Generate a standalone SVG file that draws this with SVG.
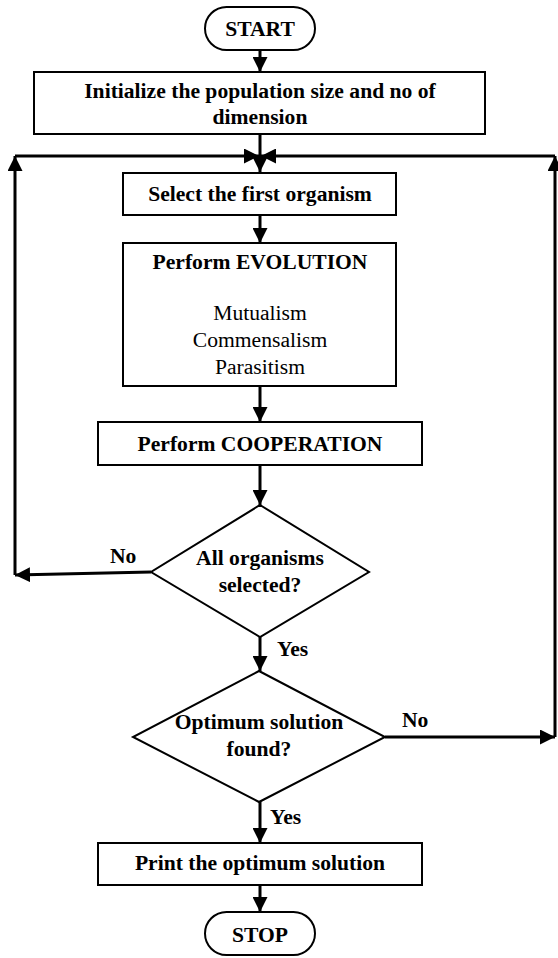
<svg xmlns="http://www.w3.org/2000/svg" width="558" height="958" viewBox="0 0 558 958">
<style>
.box{fill:#fff;stroke:#000;stroke-width:2}
.t{font-family:"Liberation Serif","Times New Roman",serif;font-size:21.6px;font-weight:bold;text-anchor:middle;fill:#000}
.r{font-family:"Liberation Serif","Times New Roman",serif;font-size:21.6px;text-anchor:middle;fill:#000}
.lb{font-family:"Liberation Serif","Times New Roman",serif;font-size:21.6px;font-weight:bold;fill:#000}
.c{fill:none;stroke:#000;stroke-width:3}
</style>
<defs>
<marker id="ah" viewBox="0 0 10 10" refX="10" refY="5" markerWidth="15" markerHeight="15" markerUnits="userSpaceOnUse" orient="auto">
<path d="M0,0 L10,5 L0,10 Z" fill="#000"/>
</marker>
</defs>
<rect width="558" height="958" fill="#fff"/>
<g id="connectors">
<line class="c" x1="260" y1="50" x2="260" y2="72" marker-end="url(#ah)"/>
<line class="c" x1="260" y1="134" x2="260" y2="172" marker-end="url(#ah)"/>
<line class="c" x1="260" y1="215" x2="260" y2="243" marker-end="url(#ah)"/>
<line class="c" x1="260" y1="386" x2="260" y2="422" marker-end="url(#ah)"/>
<line class="c" x1="260" y1="465" x2="260" y2="505" marker-end="url(#ah)"/>
<line class="c" x1="260" y1="637" x2="260" y2="671" marker-end="url(#ah)"/>
<line class="c" x1="260" y1="802" x2="260" y2="843" marker-end="url(#ah)"/>
<line class="c" x1="260" y1="885" x2="260" y2="912" marker-end="url(#ah)"/>
<line class="c" x1="151" y1="572" x2="15" y2="575" marker-end="url(#ah)"/>
<line class="c" x1="15" y1="575" x2="15" y2="156" marker-end="url(#ah)"/>
<line class="c" x1="15" y1="156" x2="259" y2="156" marker-end="url(#ah)"/>
<line class="c" x1="385" y1="737" x2="555" y2="737" marker-end="url(#ah)"/>
<line class="c" x1="555" y1="737" x2="555" y2="156" marker-end="url(#ah)"/>
<line class="c" x1="555" y1="156" x2="261" y2="156" marker-end="url(#ah)"/>
</g>
<g id="start">
<rect class="box" x="205" y="7" width="110" height="43" rx="21.5"/>
<text class="t" x="260" y="36" font-size="22">START</text>
</g>
<g id="init">
<rect class="box" x="34" y="72" width="451" height="62"/>
<text class="t" x="260" y="98">Initialize the population size and no of</text>
<text class="t" x="260" y="124">dimension</text>
</g>
<g id="select">
<rect class="box" x="123" y="173" width="273" height="42"/>
<text class="t" x="260" y="201">Select the first organism</text>
</g>
<g id="evolution">
<rect class="box" x="123" y="243" width="273" height="143"/>
<text class="t" x="260" y="269">Perform EVOLUTION</text>
<text class="r" x="260" y="320">Mutualism</text>
<text class="r" x="260" y="347">Commensalism</text>
<text class="r" x="260" y="374">Parasitism</text>
</g>
<g id="cooperation">
<rect class="box" x="98" y="422" width="324" height="43"/>
<text class="t" x="260" y="451">Perform COOPERATION</text>
</g>
<g id="decision1">
<polygon class="box" points="260,505 369,572 260,637 151,572"/>
<text class="t" x="260" y="565">All organisms</text>
<text class="t" x="260" y="592">selected?</text>
</g>
<g id="decision2">
<polygon class="box" points="259,671 385,737 259,802 133,737"/>
<text class="t" x="259" y="729">Optimum solution</text>
<text class="t" x="259" y="756">found?</text>
</g>
<g id="print">
<rect class="box" x="98" y="843" width="324" height="42"/>
<text class="t" x="260" y="870">Print the optimum solution</text>
</g>
<g id="stop">
<rect class="box" x="205" y="912" width="110" height="43" rx="21.5"/>
<text class="t" x="260" y="942">STOP</text>
</g>
<g id="labels">
<text class="lb" x="110" y="563">No</text>
<text class="lb" x="277" y="656">Yes</text>
<text class="lb" x="402" y="727">No</text>
<text class="lb" x="270" y="824">Yes</text>
</g>
</svg>
